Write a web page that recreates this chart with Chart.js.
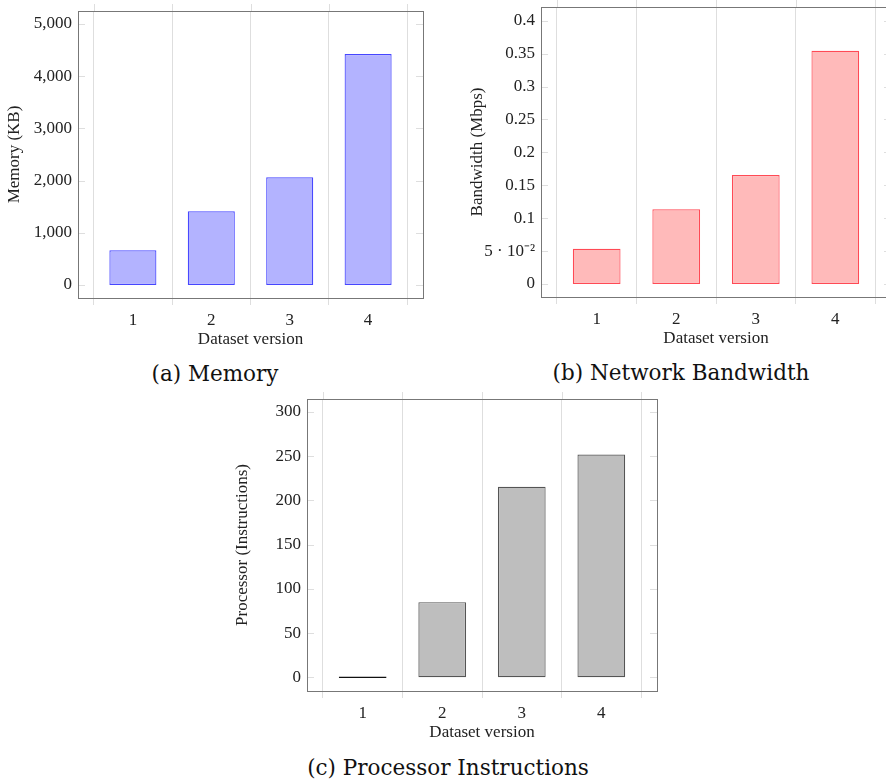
<!DOCTYPE html>
<html lang="en">
<head>
  <meta charset="UTF-8" />
  <title>Resource usage per dataset version</title>
  <script src="https://cdn.jsdelivr.net/npm/chart.js@4.4.1/dist/chart.umd.min.js"></script>
  <style>
    body {
      margin: 0;
      background: #fff;
      overflow: hidden;
      width: 886px;
      height: 782px;
      position: relative;
    }
    canvas {
      position: absolute;
    }
    .caption {
      position: absolute;
      width: 400px;
      text-align: center;
      font-family: 'DejaVu Serif', serif;
      font-size: 21.5px;
      line-height: 30px;
      color: #111;
    }
  </style>
</head>

<body>
  <canvas id="memChart"></canvas>
  <canvas id="bwChart"></canvas>
  <canvas id="cpuChart"></canvas>
  <div class="caption" style="left:15px;top:359px">(a) Memory</div>
  <div class="caption" style="left:481px;top:358px">(b) Network Bandwidth</div>
  <div class="caption" style="left:248px;top:753px">(c) Processor Instructions</div>

  <script>
    const versions = [1, 2, 3, 4];
    const memoryKB = [665, 1412, 2063, 4425];
    const bandwidthMbps = [0.0536, 0.1135, 0.1656, 0.3544];
    const instructions = [0, 85, 215.5, 252];

    const memoryTicks = [0, 1000, 2000, 3000, 4000, 5000];
    const memoryTickLabels = ['0', '1,000', '2,000', '3,000', '4,000', '5,000'];
    const bandwidthTicks = [0, 0.05, 0.1, 0.15, 0.2, 0.25, 0.3, 0.35, 0.4];
    const bandwidthTickLabels = ['0', '5 · 10⁻²', '0.1', '0.15', '0.2', '0.25', '0.3', '0.35', '0.4'];
    const instructionTicks = [0, 50, 100, 150, 200, 250, 300];
    const instructionTickLabels = ['0', '50', '100', '150', '200', '250', '300'];

    Chart.defaults.font.family = "'Liberation Serif', serif";
    Chart.defaults.font.size = 17;
    Chart.defaults.color = '#222';

    const gridColor = '#dedede';
    const frameColor = '#777';

    // pgfplots look: box round the plot, short y ticks inside, x grid poking out on top
    const framePlugin = {
      id: 'frame',
      afterDraw(chart) {
        const { ctx, chartArea: a, scales: { x, y } } = chart;
        ctx.save();
        ctx.lineWidth = 1;
        ctx.strokeStyle = gridColor;
        ctx.beginPath();
        y.ticks.forEach(t => {
          const py = Math.round(y.getPixelForValue(t.value)) + 0.5;
          ctx.moveTo(a.left, py);
          ctx.lineTo(a.left + 7, py);
          ctx.moveTo(a.right - 7, py);
          ctx.lineTo(a.right, py);
        });
        for (let i = 0; i <= versions.length; i++) {
          const px = Math.round(x.getPixelForValue(versions[0] - 0.5 + i)) + 0.5;
          ctx.moveTo(px, a.top - 7);
          ctx.lineTo(px, a.top);
        }
        ctx.stroke();
        ctx.strokeStyle = frameColor;
        ctx.strokeRect(Math.round(a.left) + 0.5, Math.round(a.top) + 0.5,
          Math.round(a.right - a.left), Math.round(a.bottom - a.top));
        ctx.restore();
      }
    };

    function barChart(id, pos, cfg) {
      const canvas = document.getElementById(id);
      const xAxisHeight = 52;
      canvas.width = pos.width;
      canvas.height = pos.plotBottom - pos.top + xAxisHeight;
      canvas.style.left = pos.left + 'px';
      canvas.style.top = pos.top + 'px';

      return new Chart(canvas.getContext('2d'), {
        type: 'bar',
        data: {
          datasets: [{
            data: versions.map((v, i) => ({ x: v, y: cfg.values[i] })),
            backgroundColor: cfg.fill,
            borderColor: cfg.stroke,
            borderWidth: 1.2,
            borderSkipped: false,
            minBarLength: 1.5,
            barPercentage: 0.6,
            categoryPercentage: 1
          }]
        },
        options: {
          responsive: false,
          animation: false,
          layout: {
            autoPadding: false,
            padding: {
              left: 0,
              bottom: 0,
              top: pos.plotTop - pos.top,
              right: pos.left + pos.width - pos.plotRight
            }
          },
          plugins: {
            legend: { display: false },
            tooltip: { enabled: false }
          },
          scales: {
            x: {
              type: 'linear',
              min: 0.3,
              max: 4.7,
              offset: false,
              afterBuildTicks: s => { s.ticks = versions.map(v => ({ value: v })); },
              afterFit: s => {
                s.height = xAxisHeight;
                s.paddingLeft = 0;
                s.paddingRight = 0;
              },
              ticks: {
                autoSkip: false,
                maxRotation: 0,
                padding: 5,
                callback: v => String(v)
              },
              grid: {
                offset: true,
                color: gridColor,
                tickLength: 7
              },
              border: { display: false },
              title: {
                display: true,
                text: 'Dataset version',
                padding: { top: 0, bottom: 0 }
              }
            },
            y: {
              min: cfg.yMin,
              max: cfg.yMax,
              afterBuildTicks: s => { s.ticks = cfg.ticks.map(v => ({ value: v })); },
              afterFit: s => {
                s.width = pos.plotLeft - pos.left;
                s.paddingTop = 0;
                s.paddingBottom = 0;
              },
              ticks: {
                padding: 6,
                callback: (v, i) => cfg.tickLabels[i]
              },
              grid: { display: false, drawTicks: false },
              border: { display: false },
              title: {
                display: true,
                text: cfg.title,
                padding: { top: pos.titleX - pos.left - 10.2, bottom: 0 }
              }
            }
          }
        },
        plugins: [framePlugin]
      });
    }

    barChart('memChart',
      { left: 0, top: 0, width: 440, plotLeft: 78, plotTop: 11, plotRight: 423, plotBottom: 298, titleX: 15 },
      {
        values: memoryKB, ticks: memoryTicks, tickLabels: memoryTickLabels,
        yMin: -249, yMax: 5249, title: 'Memory (KB)',
        fill: '#b3b3ff', stroke: '#4646ff'
      });

    barChart('bwChart',
      { left: 446, top: 0, width: 450, plotLeft: 541, plotTop: 7, plotRight: 891, plotBottom: 297, titleX: 478 },
      {
        values: bandwidthMbps, ticks: bandwidthTicks, tickLabels: bandwidthTickLabels,
        yMin: -0.0197, yMax: 0.4208, title: 'Bandwidth (Mbps)',
        fill: '#ffbaba', stroke: '#ff4a55'
      });

    barChart('cpuChart',
      { left: 220, top: 390, width: 450, plotLeft: 307, plotTop: 399, plotRight: 657, plotBottom: 691, titleX: 243 },
      {
        values: instructions, ticks: instructionTicks, tickLabels: instructionTickLabels,
        yMin: -15.5, yMax: 314.7, title: 'Processor (Instructions)',
        fill: '#bebebe', stroke: ctx => (ctx.raw && ctx.raw.y === 0 ? '#111' : '#555')
      });
  </script>
</body>

</html>
